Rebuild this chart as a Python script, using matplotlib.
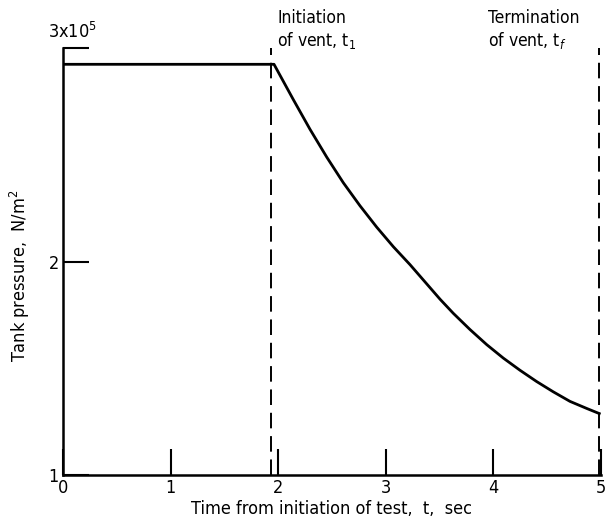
import numpy as np
import matplotlib.pyplot as plt

# Pressure history (units of 1e5 N/m^2)
time_s = [0.0, 1.961, 2.140, 2.296, 2.451, 2.605, 2.760, 2.915, 3.070,
          3.225, 3.349, 3.504, 3.627, 3.782, 3.938, 4.092, 4.247, 4.402,
          4.556, 4.712, 4.867, 4.984]
pressure = [2.925, 2.925, 2.760, 2.620, 2.490, 2.370, 2.262, 2.162, 2.070,
            1.986, 1.914, 1.824, 1.758, 1.682, 1.611, 1.548, 1.491, 1.438,
            1.390, 1.345, 1.312, 1.288]

vent_start = 1.93
vent_end = 4.984

xticks = [0, 1, 2, 3, 4, 5]
yticks = [1, 2, 3]
ytick_labels = ['1', '2', '']

plt.rcParams['font.family'] = ['DejaVu Sans']
plt.rcParams['font.stretch'] = 'condensed'
plt.rcParams['mathtext.fontset'] = 'custom'
plt.rcParams['mathtext.rm'] = 'DejaVu Sans:stretch=condensed'

fig = plt.figure(figsize=(6.08, 5.28), dpi=100)
ax = fig.add_axes([63 / 608, 1 - 475 / 528, 538 / 608, (475 - 48.3) / 528])

ax.plot(time_s, pressure, color='black', lw=2, solid_joinstyle='round')
ax.plot([vent_start, vent_start], [1, 3.0], color='black', lw=1.4, ls=(0, (8, 4)))
ax.plot([vent_end, vent_end], [1, 3.0], color='black', lw=1.4, ls=(0, (8, 4)))

ax.set_xlim(0, 5)
ax.set_ylim(1, 3)
for side in ['top', 'right']:
    ax.spines[side].set_visible(False)
for side in ['left', 'bottom']:
    ax.spines[side].set_linewidth(1.8)

ax.set_xticks(xticks)
ax.set_yticks(yticks)
ax.set_yticklabels(ytick_labels)
ax.tick_params(direction='in', length=19, width=1.5, labelsize=13, pad=3)

ax.text(-0.14, 3.03, '3x10$^5$', fontsize=13, ha='left', va='bottom')

ax.text(1.99, 3.086, 'Initiation\nof vent, t$_1$', fontsize=12.5, ha='left',
        va='center', linespacing=1.2)
ax.text(3.95, 3.086, 'Termination\nof vent, t$_f$', fontsize=12.5, ha='left',
        va='center', linespacing=1.2)

ax.set_xlabel('Time from initiation of test,  t,  sec', fontsize=13, labelpad=2)
ax.set_ylabel('Tank pressure,  N/m$^2$', fontsize=13)
ax.yaxis.set_label_coords(-0.058, 0.466)

fig.savefig('out.png', dpi=100)
